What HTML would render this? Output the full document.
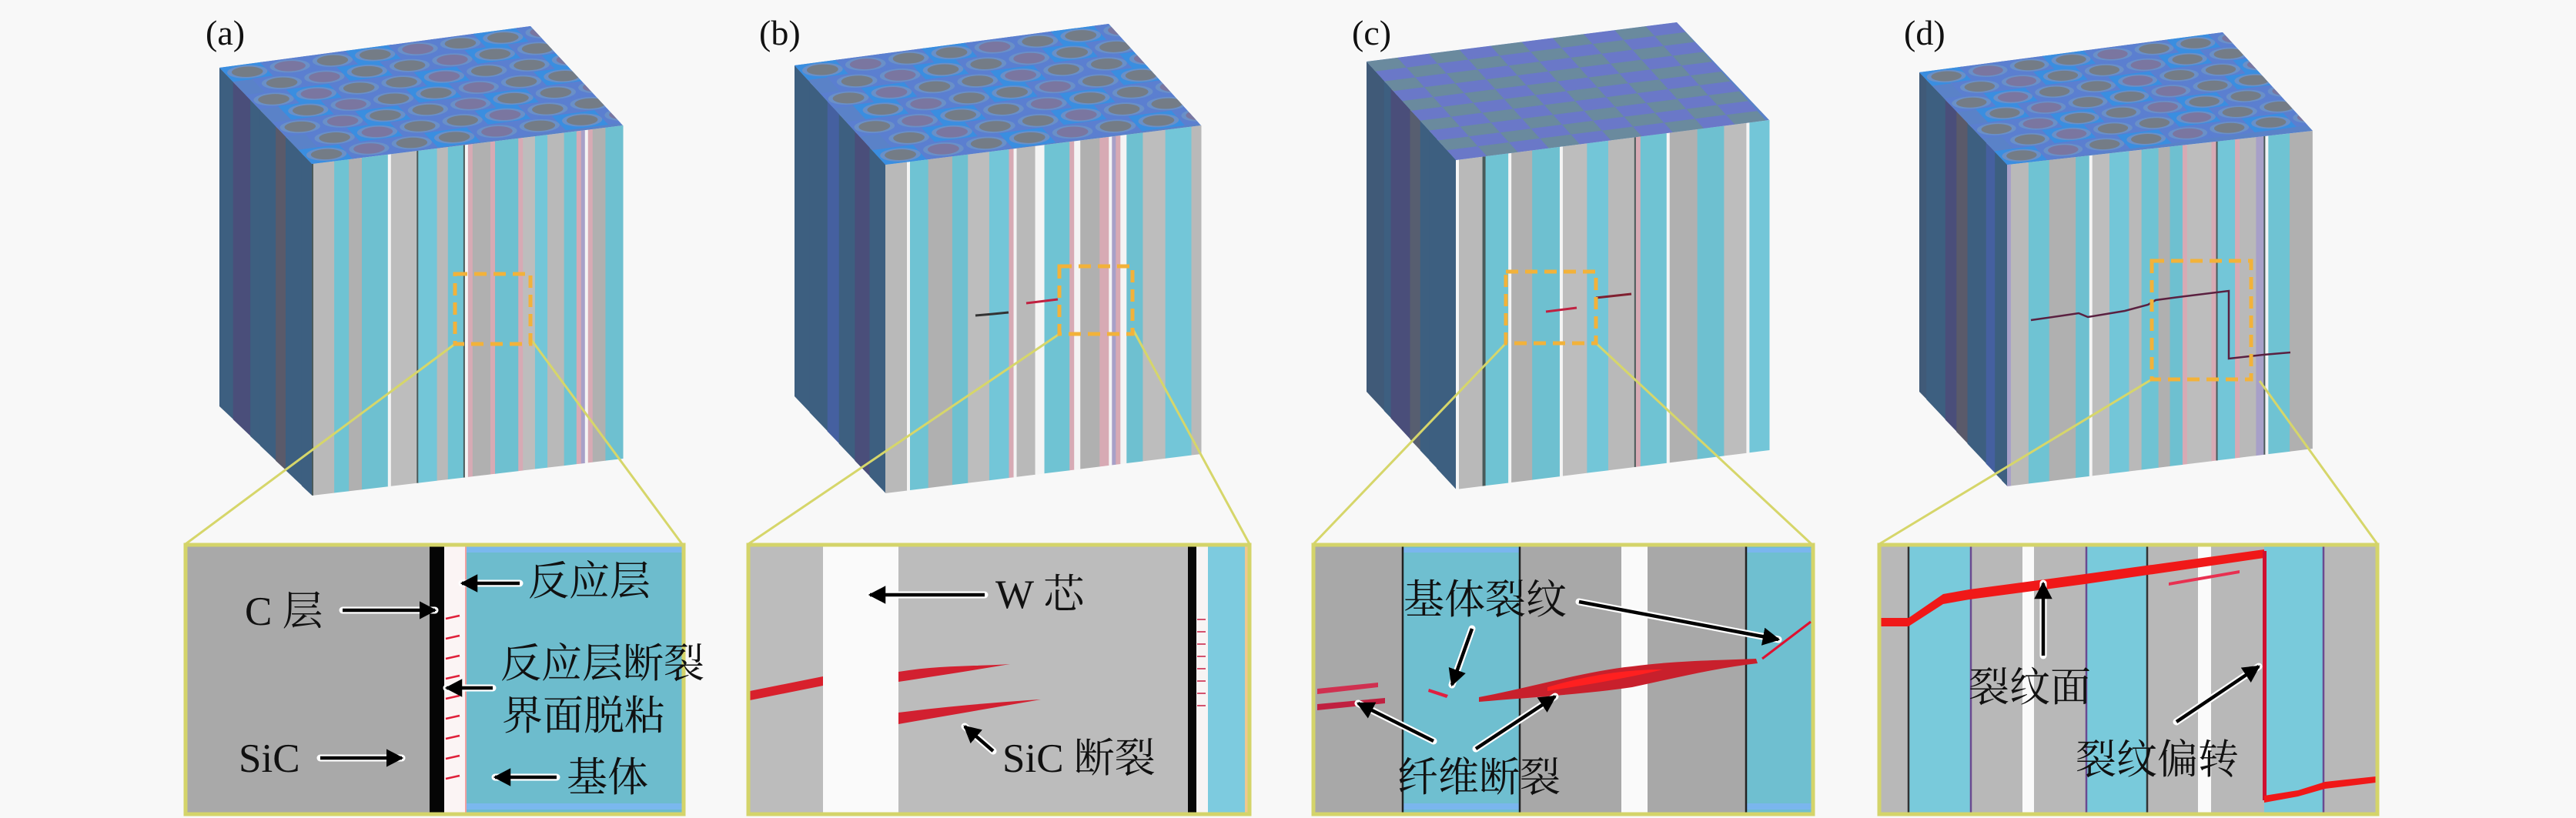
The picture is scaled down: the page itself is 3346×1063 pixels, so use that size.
<!DOCTYPE html>
<html><head><meta charset="utf-8">
<style>
html,body{margin:0;padding:0;background:#f8f8f8;}
svg{display:block;}
.lab{font-family:"Liberation Serif","Noto Serif CJK SC",serif;font-size:46px;fill:#111;}
.t{font-family:"Liberation Serif","Noto Serif CJK SC",serif;font-size:53px;fill:#111;}
</style></head>
<body>
<svg id="s" width="3346" height="1063" viewBox="0 0 3346 1063" xmlns="http://www.w3.org/2000/svg">
<defs>
<marker id="ah" markerWidth="6" markerHeight="6" refX="4.5" refY="3" orient="auto" markerUnits="strokeWidth">
<path d="M0,0.4 L5,3 L0,5.6 Z" fill="#000"/>
</marker>
<clipPath id="unit" clipPathUnits="objectBoundingBox"><rect x="0" y="0" width="1" height="1"/></clipPath>
</defs>
<rect width="3346" height="1063" fill="#f8f8f8"/>
<g id="cubes"></g>

<!-- connectors -->
<g stroke="#d6d66a" stroke-width="3" fill="none">
<line x1="591" y1="447" x2="241" y2="707"/><line x1="689" y1="440" x2="886" y2="707"/>
<line x1="1376" y1="434" x2="972" y2="707"/><line x1="1471" y1="427" x2="1623" y2="707"/>
<line x1="1956" y1="446" x2="1706" y2="707"/><line x1="2073" y1="446" x2="2353" y2="707"/>
<line x1="2795" y1="493" x2="2441" y2="707"/><line x1="2935" y1="495" x2="3088" y2="707"/>
</g>
<!-- dashed squares -->
<g stroke="#f2b23a" stroke-width="5" fill="none" stroke-dasharray="16,9">
<rect x="591" y="356" width="98" height="91"/>
<rect x="1376" y="346" width="95" height="88"/>
<rect x="1956" y="353" width="117" height="93"/>
<rect x="2795" y="339" width="129" height="154"/>
</g>

<!-- INSET A -->
<g>
<rect x="241" y="708" width="647" height="350" fill="#a9a9a9"/>
<rect x="577" y="708" width="29" height="350" fill="#fbf4f4"/>
<rect x="604" y="708" width="3" height="350" fill="#f0a0a0"/>
<rect x="606" y="708" width="282" height="350" fill="#6dbccd"/>
<rect x="606" y="710" width="280" height="8" fill="#7ab8ee"/>
<rect x="606" y="1044" width="280" height="8" fill="#7ab8ee"/>
<rect x="558" y="708" width="19" height="350" fill="#050505"/>
<g stroke="#e0203a" stroke-width="2.5" id="ticksA"></g>
<rect x="241" y="708" width="647" height="350" fill="none" stroke="#d4d46a" stroke-width="5"/>
</g>

<!-- INSET B -->
<g>
<rect x="972" y="708" width="651" height="350" fill="#bcbcbc"/>
<rect x="1069" y="708" width="98" height="350" fill="#fafafa"/>
<rect x="1543" y="708" width="11" height="350" fill="#080808"/>
<rect x="1554" y="708" width="15" height="350" fill="#f8f4f4"/>
<rect x="1569" y="708" width="50" height="350" fill="#7dcbdf"/>
<rect x="1617" y="708" width="6" height="350" fill="#f0c890"/>
<g stroke="#d04060" stroke-width="1.8" id="ticksB"></g>
<path d="M974,898 L1069,879 L1069,891 L974,910 Z" fill="#d8202c"/>
<path d="M1167,873 C1220,864 1270,866 1312,863 C1270,870 1220,878 1167,886 Z" fill="#d22030"/>
<path d="M1167,926 C1230,918 1300,912 1352,909 C1300,918 1230,930 1167,941 Z" fill="#d22030"/>
<rect x="972" y="708" width="651" height="350" fill="none" stroke="#d4d46a" stroke-width="5"/>
</g>

<!-- INSET C -->
<g>
<rect x="1706" y="708" width="649" height="350" fill="#a8a8a8"/>
<rect x="1822" y="708" width="152" height="350" fill="#6fbfd0"/>
<rect x="2106" y="708" width="34" height="350" fill="#fafafa"/>
<rect x="2268" y="708" width="87" height="350" fill="#6fbfd0"/>
<rect x="1822" y="712" width="152" height="6" fill="#7ab6ee"/><rect x="1822" y="1044" width="152" height="8" fill="#7ab6ee"/>
<rect x="2268" y="712" width="87" height="6" fill="#7ab6ee"/><rect x="2268" y="1044" width="87" height="8" fill="#7ab6ee"/>
<g stroke="#222" stroke-width="2.5"><line x1="1822" y1="708" x2="1822" y2="1058"/><line x1="1974" y1="708" x2="1974" y2="1058"/><line x1="2268" y1="708" x2="2268" y2="1058"/></g>
<path d="M1711,895 L1790,887 L1790,893 L1711,902 Z" fill="#d03050"/>
<path d="M1711,915 L1799,907 L1799,914 L1711,923 Z" fill="#c02040"/>
<path d="M1856,895 L1881,903 L1879,907 L1855,899 Z" fill="#e02040"/>
<path d="M1921,906 C1990,893 2060,872 2120,866 C2180,858 2240,858 2281,856 L2283,862 C2230,868 2180,880 2120,893 C2060,902 1990,906 1921,912 Z" fill="#c8202c"/>
<path d="M2010,893 C2060,878 2110,870 2160,870 C2110,882 2060,890 2010,898 Z" fill="#ff2020"/>
<line x1="2289" y1="856" x2="2352" y2="808" stroke="#e01030" stroke-width="3"/>
<rect x="1706" y="708" width="649" height="350" fill="none" stroke="#d4d46a" stroke-width="5"/>
</g>

<!-- INSET D -->
<g>
<rect x="2441" y="708" width="647" height="350" fill="#b8b8b8"/>
<rect x="2479" y="708" width="81" height="350" fill="#79cadb"/>
<rect x="2627" y="708" width="15" height="350" fill="#fafafa"/>
<rect x="2710" y="708" width="79" height="350" fill="#79cadb"/>
<rect x="2855" y="708" width="17" height="350" fill="#fafafa"/>
<rect x="2941" y="708" width="77" height="350" fill="#79cadb"/>
<g stroke-width="2.5"><line x1="2479" y1="708" x2="2479" y2="1058" stroke="#333"/><line x1="2560" y1="708" x2="2560" y2="1058" stroke="#6a4a90"/><line x1="2710" y1="708" x2="2710" y2="1058" stroke="#6a4a90"/><line x1="2789" y1="708" x2="2789" y2="1058" stroke="#333"/><line x1="3018" y1="708" x2="3018" y2="1058" stroke="#6a4a90"/></g>
<path d="M2443,803 L2479,803 L2524,772 L2558,766 L2708,746 L2941,714 L2941,725 L2708,759 L2558,779 L2524,785 L2479,814 L2443,814 Z" fill="#f01818"/>
<path d="M2817,757 L2909,741 L2909,745 L2817,761 Z" fill="#e83050"/>
<rect x="2939" y="716" width="5" height="324" fill="#d01030"/>
<path d="M2941,1034 L2985,1027 L3020,1016 L3086,1009 L3086,1017 L3020,1025 L2985,1035 L2941,1043 Z" fill="#f01818"/>
<rect x="2441" y="708" width="647" height="350" fill="none" stroke="#d4d46a" stroke-width="5"/>
</g>

<!-- arrows -->
<g id="arrows"></g>

<!-- labels -->
<text class="lab" x="267" y="58">(a)</text>
<text class="lab" x="986" y="58">(b)</text>
<text class="lab" x="1756" y="58">(c)</text>
<text class="lab" x="2473" y="58">(d)</text>

<text class="t" x="318" y="812">C 层</text>
<text class="t" x="310" y="1003">SiC</text>
<text class="t" x="686" y="773">反应层</text>
<text class="t" x="650" y="880">反应层断裂</text>
<text class="t" x="652" y="948">界面脱粘</text>
<text class="t" x="736" y="1028">基体</text>

<text class="t" x="1293" y="790">W 芯</text>
<text class="t" x="1302" y="1003">SiC 断裂</text>

<text class="t" x="1823" y="797">基体裂纹</text>
<text class="t" x="1815" y="1028">纤维断裂</text>

<text class="t" x="2557" y="911">裂纹面</text>
<text class="t" x="2696" y="1005">裂纹偏转</text>
</svg>
<script>
(function(){
var NS="http://www.w3.org/2000/svg";
function el(tag,attrs,parent){var e=document.createElementNS(NS,tag);for(var k in attrs)e.setAttribute(k,attrs[k]);parent.appendChild(e);return e;}
var seed=7;function rnd(){seed=(seed*1103515245+12345)%2147483648;return seed/2147483648;}
var cubes=document.getElementById('cubes');
var defs=document.querySelector('defs');
var C=[
 {BL:[285,88],BR:[689,34],FR:[809,163],FL:[405,213],fbl:644,fbr:596,lbl:528,checker:false,s:3},
 {BL:[1032,85],BR:[1440,31],FR:[1560,163],FL:[1150,214],fbl:641,fbr:590,lbl:515,checker:false,s:11},
 {BL:[1775,80],BR:[2178,29],FR:[2298,156],FL:[1891,208],fbl:636,fbr:585,lbl:509,checker:true,s:23},
 {BL:[2493,94],BR:[2887,42],FR:[3004,170],FL:[2607,214],fbl:632,fbr:583,lbl:509,checker:false,s:41}
];
C.forEach(function(c,ci){
 seed=c.s;
 var g=el('g',{},cubes);
 var x0=c.BL[0],x1=c.FL[0];
 var lcols=['#3d5f80','#405a78','#4a4e7a','#575e70','#3f5d86','#4560a0','#5a5a6a'];
 var x=x0;
 while(x<x1){var w=8+rnd()*18;var xe=Math.min(x1,x+w);
  var ty0=c.BL[1]+(c.FL[1]-c.BL[1])*(x-x0)/(x1-x0), ty1=c.BL[1]+(c.FL[1]-c.BL[1])*(xe-x0)/(x1-x0);
  var by0=c.lbl+(c.fbl-c.lbl)*(x-x0)/(x1-x0), by1=c.lbl+(c.fbl-c.lbl)*(xe-x0)/(x1-x0);
  var col=rnd()<0.55?'#3d5f80':lcols[Math.floor(rnd()*lcols.length)];
  el('polygon',{points:x+','+ty0+' '+(xe+0.5)+','+ty1+' '+(xe+0.5)+','+by1+' '+x+','+by0,fill:col},g);
  x=xe;}
 var f0=c.FL[0],f1=c.FR[0];
 function ty(x){return c.FL[1]+(c.FR[1]-c.FL[1])*(x-f0)/(f1-f0);}
 function by(x){return c.fbl+(c.fbr-c.fbl)*(x-f0)/(f1-f0);}
 x=f0;
 var main=['#b9b9b9','#6fc3d3','#b0b0b0','#6ec0d0','#bdbdbd','#73c6d8'];
 var k=0;
 while(x<f1){
  var thin=rnd();var w,col;
  if(thin<0.22){w=4;col='#f4f4f4';}else if(thin<0.34){w=6;col='#d7aab4';}else if(thin<0.42){w=2;col='#4a5a5a';}else if(thin<0.48){w=5;col='#a7a0c8';}
  else{w=14+rnd()*22;col=main[(k++)%main.length];}
  var xe=Math.min(f1,x+w);
  el('polygon',{points:x+','+ty(x)+' '+(xe+0.5)+','+ty(xe)+' '+(xe+0.5)+','+by(xe)+' '+x+','+by(x),fill:col},g);
  x=xe;}
 // top face clipped
 var cp=el('clipPath',{id:'tc'+ci},defs);
 el('polygon',{points:c.BL.join(',')+' '+c.BR.join(',')+' '+c.FR.join(',')+' '+c.FL.join(',')},cp);
 var outer=el('g',{'clip-path':'url(#tc'+ci+')'},g);
 var ux=c.BR[0]-c.BL[0],uy=c.BR[1]-c.BL[1],vx=c.FL[0]-c.BL[0],vy=c.FL[1]-c.BL[1];
 var tg=el('g',{transform:'matrix('+ux+','+uy+','+vx+','+vy+','+c.BL[0]+','+c.BL[1]+')'},outer);
 el('rect',{x:-0.1,y:-0.1,width:1.2,height:1.2,fill:'#5a82c8'},tg);
 if(c.checker){
  for(var i=0;i<10;i++)for(var j=0;j<10;j++){
   var cc=((i+j)%2==0)?'#6a8a9e':(((i*3+j)%4==0)?'#3c8ed8':'#6a78c8');
   el('rect',{x:i/10,y:j/10,width:0.1,height:0.1,fill:cc},tg);
  }
 } else {
  for(var r=0;r<7;r++){for(var q=0;q<8;q++){
   var cx=(q+0.5+(r%2)*0.5)/7.3, cy=(r+0.5)/7;
   el('rect',{x:cx-0.075,y:cy-0.075,width:0.15,height:0.15,fill:(r+q)%3==0?'#3a8ee0':'#5b7fd0'},tg);
   el('ellipse',{cx:cx,cy:cy,rx:0.062,ry:0.062,fill:'#6a90c8'},tg);
   el('ellipse',{cx:cx,cy:cy,rx:0.048,ry:0.05,fill:(q%3==1)?'#7a76a0':'#747c86'},tg);
  }}
 }
});
var g2=el('g',{},cubes);
el('polyline',{points:'1267,410 1290,408 1310,406',stroke:'#333',"stroke-width":3,fill:'none'},g2);
el('polyline',{points:'1333,394 1374,389',stroke:'#c02040',"stroke-width":3,fill:'none'},g2);
el('polyline',{points:'2008,405 2048,400',stroke:'#c02040',"stroke-width":3,fill:'none'},g2);
el('polyline',{points:'2073,387 2119,382',stroke:'#802030',"stroke-width":3,fill:'none'},g2);
el('polyline',{points:'2638,416 2680,410 2700,407 2712,412 2760,404 2790,396 2800,390 2830,386 2895,378 2895,466 2940,461 2975,458',stroke:'#5a2040',"stroke-width":2.5,fill:'none'},g2);
var ta=document.getElementById('ticksA');
for(var y=800;y<1010;y+=26){el('line',{x1:579,y1:y+4,x2:597,y2:y},ta);}
var tb=document.getElementById('ticksB');
for(var y=805;y<920;y+=16){el('line',{x1:1555,y1:y,x2:1566,y2:y},tb);}
var A=document.getElementById('arrows');
function arrow(x1,y1,x2,y2){
 el('line',{x1:x1,y1:y1,x2:x2,y2:y2,stroke:'#fff',"stroke-width":9,"stroke-linecap":"round"},A);
 el('line',{x1:x1,y1:y1,x2:x2,y2:y2,stroke:'#000',"stroke-width":4.5,"marker-end":"url(#ah)"},A);
}
arrow(445,793,565,793);arrow(416,985,522,985);
arrow(675,758,600,758);arrow(640,894,580,894);arrow(723,1010,643,1010);
arrow(1279,773,1130,773);arrow(1290,976,1253,944);
arrow(2051,782,2310,831);arrow(1912,817,1886,890);arrow(1862,963,1764,914);arrow(1917,973,2020,905);
arrow(2654,852,2654,758);arrow(2827,938,2934,866);
})();
</script>
</body></html>
